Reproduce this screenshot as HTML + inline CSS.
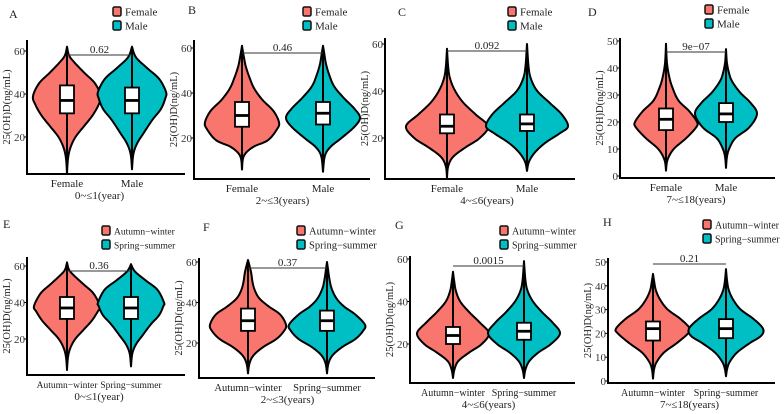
<!DOCTYPE html>
<html><head><meta charset="utf-8">
<style>
html,body{margin:0;padding:0;background:#fff;}
svg, svg text{font-family:"Liberation Serif","DejaVu Serif","Times New Roman",serif;}
svg{display:block;}
</style></head>
<body>
<svg id="chart" width="784" height="414" viewBox="0 0 784 414"></svg>
<script>
// ---- data arrays ----
const A_f_vals=[3,10,15,20,25,30,35,39,45,50,55,58,62];
const A_f_dens=[0,.03,.1,.25,.5,.75,.93,1,.82,.5,.2,.06,0];
const A_m_vals=[5,12,17,22,28,33,38,41,47,52,57,62];
const A_m_dens=[0,.04,.15,.35,.6,.85,.98,1,.8,.45,.12,0];
const B_f_vals=[6,12,16,19,24,27,32,37,42,47,52,57,61];
const B_f_dens=[0,.05,.3,.7,.95,1,.85,.55,.33,.2,.1,.04,0];
const B_m_vals=[5,12,16,20,25,29,33,38,43,48,53,58,61];
const B_m_dens=[0,.05,.2,.5,.85,1,.85,.55,.3,.17,.08,.03,0];
const C_f_vals=[3,8,12,16,20,25,30,35,40,45,50,58];
const C_f_dens=[0,.03,.15,.45,.8,1,.7,.4,.2,.08,.03,0];
const C_m_vals=[6,10,14,18,22,25,30,35,40,45,50,60];
const C_m_dens=[0,.05,.2,.45,.8,1,.85,.55,.25,.1,.04,0];
const D_f_vals=[2,6,10,14,18,20,24,28,33,37,42,49];
const D_f_dens=[0,.05,.25,.65,.97,1,.75,.4,.2,.1,.03,0];
const D_m_vals=[3,7,10,14,18,23,27,31,35,38,42,47];
const D_m_dens=[0,.03,.1,.3,.75,1,.8,.45,.2,.1,.03,0];
const E_f_vals=[3,10,15,20,25,30,35,38,45,50,55,58,62];
const E_f_dens=[0,.03,.1,.25,.5,.75,.93,1,.8,.5,.2,.06,0];
const E_m_vals=[5,12,17,22,28,33,38,40,47,52,57,61];
const E_m_dens=[0,.04,.15,.35,.6,.85,.98,1,.8,.45,.12,0];
const F_f_vals=[5,10,14,18,22,26,29,34,38,42,46,50,55,61];
const F_f_dens=[0,.04,.15,.4,.75,.95,1,.85,.55,.3,.18,.12,.08,0];
const F_m_vals=[5,10,14,18,22,26,29,34,38,42,47,52,56,60];
const F_m_dens=[0,.04,.15,.4,.75,.95,1,.75,.45,.25,.12,.06,.03,0];
const G_f_vals=[4,8,12,16,20,25,30,35,40,45,50,54];
const G_f_dens=[0,.04,.15,.45,.8,1,.75,.45,.2,.08,.03,0];
const G_m_vals=[4,8,12,16,20,25,30,35,40,45,50,59];
const G_m_dens=[0,.04,.15,.4,.75,1,.8,.5,.25,.1,.04,0];
const H_f_vals=[1,5,8,12,16,20,22,26,30,34,38,42,45];
const H_f_dens=[0,.03,.1,.3,.65,.95,1,.75,.4,.2,.08,.03,0];
const H_m_vals=[2,5,8,12,16,19,22,26,30,34,38,42,47];
const H_m_dens=[0,.03,.1,.3,.65,.95,1,.75,.4,.2,.08,.03,0];
// box stats [q1, median, q3]
const A_f_box=[31,37,44], A_m_box=[31,37,43];
const B_f_box=[25,30,36], B_m_box=[26,31,36];
const C_f_box=[22,25,30], C_m_box=[23,26,30];
const D_f_box=[17,21,25], D_m_box=[20,23,27];
const E_f_box=[31,37,43], E_m_box=[31,37,43];
const F_f_box=[26,31,37], F_m_box=[26,31,36];
const G_f_box=[20,24,28], G_m_box=[22,26,30];
const H_f_box=[17,22,25], H_m_box=[18,22,26];
const pValues=["0.62","0.46","0.092","9e\u221207","0.36","0.37","0.0015","0.21"];
const ticks60=[20,40,60];
const ticks50=[0,10,20,30,40,50];
const sexCats=["Female","Male"];
const seasonCats=["Autumn\u2212winter","Spring\u2212summer"];
const ageTitles=["0~\u22641(year)","2~\u22643(years)","4~\u22646(years)","7~\u226418(years)"];

// ---- layout ----
const panels=[
 {id:"A",ax:27,top:40,bot:174,right:185,v1:60,y1:51,v2:20,y2:137,c:[67,132],hw:34,br:55,lg:[113,7],lab:[9,12],f:[A_f_vals,A_f_dens,A_f_box],m:[A_m_vals,A_m_dens,A_m_box],ticks:ticks60,cats:sexCats,title:0,p:0,fs:11},
 {id:"B",ax:194,top:40,bot:179,right:370,v1:60,y1:48,v2:20,y2:138,c:[242,323],hw:37,br:53,lg:[303,7],lab:[188,8],f:[B_f_vals,B_f_dens,B_f_box],m:[B_m_vals,B_m_dens,B_m_box],ticks:ticks60,cats:sexCats,title:1,p:1,fs:11},
 {id:"C",ax:385,top:38,bot:179,right:575,v1:60,y1:44,v2:20,y2:138,c:[447,527],hw:41,br:51,lg:[508,7],lab:[398,10],f:[C_f_vals,C_f_dens,C_f_box],m:[C_m_vals,C_m_dens,C_m_box],ticks:ticks60,cats:sexCats,title:2,p:2,fs:11},
 {id:"D",ax:620,top:38,bot:178,right:775,v1:50,y1:41,v2:0,y2:176,c:[666,726],hw:31,br:52,lg:[705,5],lab:[588,10],f:[D_f_vals,D_f_dens,D_f_box],m:[D_m_vals,D_m_dens,D_m_box],ticks:ticks50,cats:sexCats,title:3,p:3,fs:11},
 {id:"E",ax:27,top:257,bot:375,right:185,v1:60,y1:266,v2:20,y2:339,c:[67,131],hw:33,br:271,lg:[102,226],lab:[3,222],f:[E_f_vals,E_f_dens,E_f_box],m:[E_m_vals,E_m_dens,E_m_box],ticks:ticks60,cats:seasonCats,title:0,p:4,fs:9.5},
 {id:"F",ax:199,top:258,bot:378,right:375,v1:60,y1:262,v2:20,y2:343,c:[248,327],hw:38,br:268,lg:[297,226],lab:[203,225],f:[F_f_vals,F_f_dens,F_f_box],m:[F_m_vals,F_m_dens,F_m_box],ticks:ticks60,cats:seasonCats,title:1,p:5,fs:10.5},
 {id:"G",ax:410,top:256,bot:383,right:575,v1:60,y1:259,v2:20,y2:344,c:[453,524],hw:36,br:266,lg:[500,226],lab:[395,223],f:[G_f_vals,G_f_dens,G_f_box],m:[G_m_vals,G_m_dens,G_m_box],ticks:ticks60,cats:seasonCats,title:2,p:6,fs:10},
 {id:"H",ax:608,top:258,bot:383,right:775,v1:50,y1:262,v2:0,y2:381,c:[653,726],hw:37,br:264,lg:[703,220],lab:[603,220],f:[H_f_vals,H_f_dens,H_f_box],m:[H_m_vals,H_m_dens,H_m_box],ticks:ticks50,cats:seasonCats,title:3,p:7,fs:10}
];
const NS="http://www.w3.org/2000/svg";
const FONT='"Liberation Serif","DejaVu Serif",serif';
const svg=document.getElementById('chart');
function mk(tag,attrs,parent,txt){const e=document.createElementNS(NS,tag);for(const k in attrs)e.setAttribute(k,attrs[k]);if(txt!==undefined){e.textContent=txt;e.setAttribute('font-family',FONT);}(parent||svg).appendChild(e);return e;}
const COLORS=["#F8766D","#00BFC4"];

function smoothPts(pts){
 const out=[];
 for(let i=0;i<pts.length-1;i++){
  const p0=pts[Math.max(0,i-1)],p1=pts[i],p2=pts[i+1],p3=pts[Math.min(pts.length-1,i+2)];
  for(let t=0;t<1;t+=0.125){
   const t2=t*t,t3=t2*t;
   const f=(a,b,c,d)=>0.5*((2*b)+(-a+c)*t+(2*a-5*b+4*c-d)*t2+(-a+3*b-3*c+d)*t3);
   out.push([f(p0[0],p1[0],p2[0],p3[0]),f(p0[1],p1[1],p2[1],p3[1])]);
  }
 }
 out.push(pts[pts.length-1]);return out;
}

panels.forEach(P=>{
 const g=mk('g',{});
 
 
 const yS=v=>P.y1+(v-P.v1)*(P.y2-P.y1)/(P.v2-P.v1);
 const lt=mk('text',{x:P.lab[0],y:P.lab[1]+6,'font-size':12,fill:'#222'},g,P.id);
 
 
 P.cats.forEach((c,i)=>{
  const lg=mk('g',{},g);
  
  
  mk('rect',{x:P.lg[0],y:P.lg[1]+i*14,width:8,height:9,rx:1.5,fill:COLORS[i],stroke:'#111','stroke-width':1.5},lg);
  mk('text',{x:P.lg[0]+12,y:P.lg[1]+i*14+8.5,'font-size':P.fs,fill:'#222'},lg,c);
 });
 const ax=mk('path',{d:`M${P.ax},${P.top}V${P.bot}H${P.right}`,fill:'none',stroke:'#000','stroke-width':2},g);
 
 
 P.ticks.forEach(t=>{
  const y=yS(t);
  mk('line',{x1:P.ax-3,x2:P.ax,y1:y,y2:y,stroke:'#000','stroke-width':1},g);
  const tl=mk('text',{x:P.ax-2,y:y+4,'font-size':11,'text-anchor':'end',fill:'#333'},g,t);
  
  
 });
 const yt=mk('text',{transform:`translate(${P.ax-17},${(P.top+P.bot)/2}) rotate(-90)`,'font-size':10.5,'text-anchor':'middle',fill:'#222'},g,'25(OH)D(ng/mL)');
 
 
 [P.f,P.m].forEach((V,i)=>{
  const cx=P.c[i];
  const vals=V[0],dens=V[1],box=V[2];
  const pts=smoothPts(vals.map((v,k)=>[yS(v),dens[k]]));
  let d='M'+pts.map(p=>`${cx+P.hw*Math.max(0,p[1])},${p[0]}`).join('L');
  d+='L'+pts.slice().reverse().map(p=>`${cx-P.hw*Math.max(0,p[1])},${p[0]}`).join('L')+'Z';
  const vg=mk('g',{},g);
  
  
  mk('path',{d:d,fill:COLORS[i],stroke:'#000','stroke-width':2,'stroke-linejoin':'round'},vg);
  mk('line',{x1:cx,x2:cx,y1:yS(vals[0]),y2:yS(vals[vals.length-1]),stroke:'#000','stroke-width':2},vg);
  const bx=mk('rect',{x:cx-7,y:yS(box[2]),width:14,height:yS(box[0])-yS(box[2]),fill:'#fff',stroke:'#000','stroke-width':1.8},vg);
  
  
  mk('line',{x1:cx-7,x2:cx+7,y1:yS(box[1]),y2:yS(box[1]),stroke:'#000','stroke-width':2.8},vg);
  const xl=mk('text',{x:cx,y:P.bot+13,'font-size':P.fs,'text-anchor':'middle',fill:'#222'},g,P.cats[i]);
  
  
 });
 const bl=mk('line',{x1:P.c[0],x2:P.c[1],y1:P.br,y2:P.br,stroke:'#333','stroke-width':1},g);
 
 
 const pv=mk('text',{x:(P.c[0]+P.c[1])/2,y:P.br-2,'font-size':11,'text-anchor':'middle',fill:'#222'},g,pValues[P.p]);
 
 
 const xt=mk('text',{x:(P.c[0]+P.c[1])/2,y:P.bot+25,'font-size':11,'text-anchor':'middle',fill:'#222'},g,ageTitles[P.title]);
 
 
});
</script>
</body></html>
